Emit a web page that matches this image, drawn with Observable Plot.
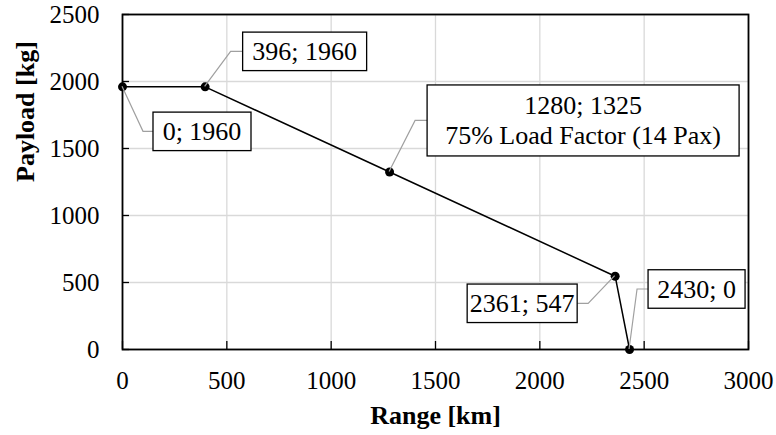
<!DOCTYPE html>
<html>
<head>
<meta charset="utf-8">
<script src="https://cdn.jsdelivr.net/npm/d3@7"></script>
<script src="https://cdn.jsdelivr.net/npm/@observablehq/plot@0.6"></script>
<style>
  html, body { margin: 0; padding: 0; background: #fff; font-family: "Liberation Serif"; }
  #chart { width: 776px; height: 435px; }
</style>
</head>
<body>
<div id="chart"></div>
<script>
// ---- data ----
const ranges = [0, 396, 1280, 2361, 2430];
const payloads = [1960, 1960, 1325, 547, 0];
const pointLabels = [
  ["0; 1960"],
  ["396; 1960"],
  ["1280; 1325", "75% Load Factor (14 Pax)"],
  ["2361; 547"],
  ["2430; 0"]
];
const xTicks = [0, 500, 1000, 1500, 2000, 2500, 3000];
const yTicks = [0, 500, 1000, 1500, 2000, 2500];
const xTitle = "Range [km]";
const yTitle = "Payload [kg]";

// ---- layout of callouts (pixel offsets from each point) ----
const calloutLayout = [
  {ex: 21, ey: 45, gap: 10, side: "right", w: 98},
  {ex: 26, ey: -35, gap: 12, side: "right", w: 124},
  {ex: 26, ey: -51, gap: 12, side: "right", w: 312},
  {ex: -26.5, ey: 27.6, gap: 11, side: "left", w: 110},
  {ex: 8, ey: -60, gap: 11, side: "right", w: 97}
];

const points = ranges.map((r, i) => ({range: r, payload: payloads[i], label: pointLabels[i]}));

const FONT = "Liberation Serif";

function callouts(index, scales) {
  const ns = "http://www.w3.org/2000/svg";
  const g = document.createElementNS(ns, "g");
  points.forEach((p, i) => {
    const L = calloutLayout[i];
    const px = scales.x(p.range), py = scales.y(p.payload);
    const ex = px + L.ex, ey = py + L.ey;
    const bx = L.side === "right" ? ex + L.gap : ex - L.gap;
    const lead = document.createElementNS(ns, "polyline");
    lead.setAttribute("points", `${px},${py} ${ex},${ey} ${bx},${ey}`);
    lead.setAttribute("fill", "none");
    lead.setAttribute("stroke", "#a0a0a0");
    lead.setAttribute("stroke-width", "1.2");
    g.appendChild(lead);
    const n = p.label.length;
    const lh = 30;
    const h = n === 1 ? 38.5 : 71;
    const x0 = L.side === "right" ? bx : bx - L.w;
    const rect = document.createElementNS(ns, "rect");
    rect.setAttribute("x", x0);
    rect.setAttribute("y", ey - h / 2);
    rect.setAttribute("width", L.w);
    rect.setAttribute("height", h);
    rect.setAttribute("fill", "white");
    rect.setAttribute("stroke", "black");
    rect.setAttribute("stroke-width", "1.3");
    g.appendChild(rect);
    p.label.forEach((t, k) => {
      const tx = document.createElementNS(ns, "text");
      tx.setAttribute("x", x0 + L.w / 2);
      const base = ey + 9 + (k - (n - 1) / 2) * lh;
      tx.setAttribute("y", base);
      tx.setAttribute("text-anchor", "middle");
      tx.setAttribute("font-size", "26px");
      tx.setAttribute("fill", "black");
      tx.textContent = t;
      g.appendChild(tx);
    });
  });
  return g;
}

const W = 776, H = 435;
const mL = 122, mR = 28, mT = 14, mB = 86;
const innerW = W - mL - mR, innerH = H - mT - mB;

const chart = Plot.plot({
  width: W,
  height: H,
  marginLeft: mL,
  marginRight: mR,
  marginTop: mT,
  marginBottom: mB,
  style: {fontFamily: FONT, fontSize: "25px", color: "black", background: "white", overflow: "visible"},
  x: {domain: [0, 3000], ticks: xTicks, tickSize: 0, tickPadding: 22, label: null, tickFormat: d => String(d)},
  y: {domain: [0, 2500], ticks: yTicks, tickSize: 0, tickPadding: 23, label: null, tickFormat: d => String(d)},
  marks: [
    Plot.ruleX(xTicks, {x: d => d, stroke: "#d9d9d9", strokeWidth: 1.3}),
    Plot.ruleY(yTicks, {y: d => d, stroke: "#d9d9d9", strokeWidth: 1.3}),
    Plot.ruleX(xTicks, {x: d => d, stroke: "black", strokeWidth: 1.3, insetTop: innerH - 8}),
    Plot.ruleY(yTicks, {y: d => d, stroke: "black", strokeWidth: 1.3, insetRight: innerW - 7}),
    Plot.frame({stroke: "black", strokeWidth: 1.8}),
    Plot.line(points, {x: "range", y: "payload", stroke: "black", strokeWidth: 1.5}),
    Plot.dot(points, {x: "range", y: "payload", r: 4.5, fill: "black", stroke: "none"}),
    callouts,
    Plot.text([xTitle], {text: d => d, frameAnchor: "bottom", dy: 74, fontWeight: "bold", fontSize: 26}),
    Plot.text([yTitle], {text: d => d, frameAnchor: "left", dx: -97, rotate: -90, fontWeight: "bold", fontSize: 26})
  ]
});
chart.setAttribute("font-family", FONT);
chart.querySelectorAll("g, text, tspan").forEach(el => {
  if (el.hasAttribute("font-family")) el.setAttribute("font-family", FONT);
});
chart.querySelectorAll("text").forEach(el => {
  el.setAttribute("font-family", FONT);
  el.style.setProperty("font-family", "'Liberation Serif'", "important");
});
document.getElementById("chart").appendChild(chart);
</script>
</body>
</html>
